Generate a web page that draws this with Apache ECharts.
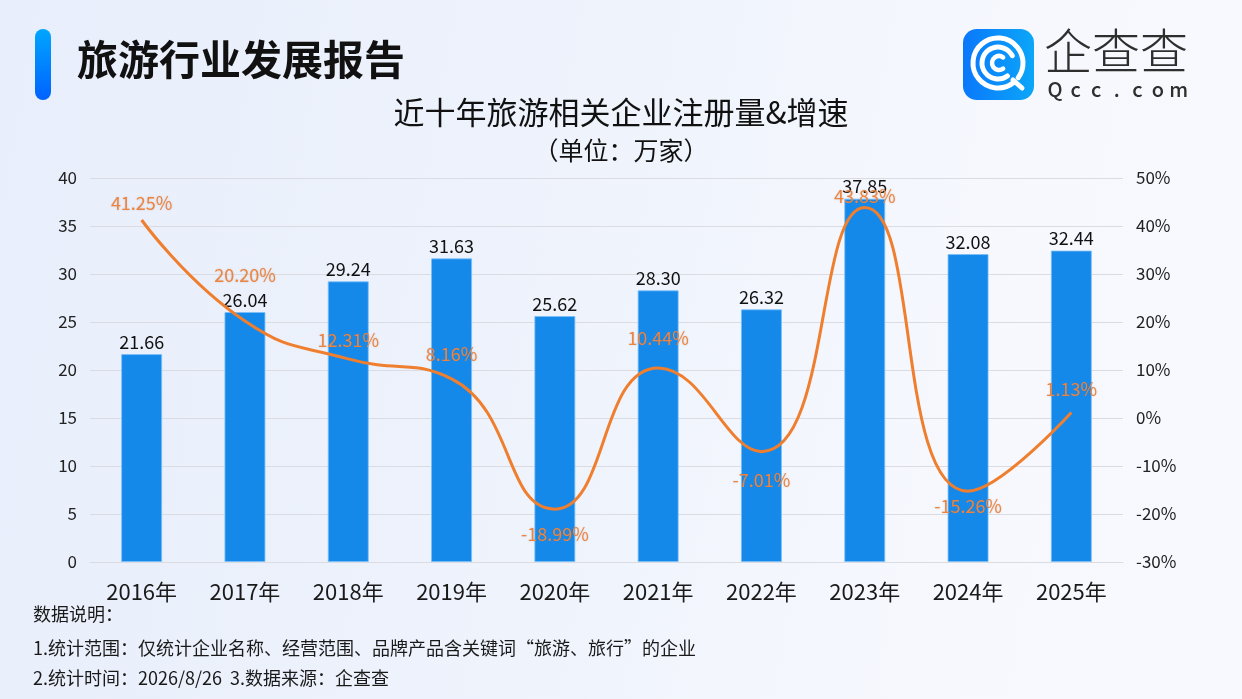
<!DOCTYPE html>
<html>
<head>
<meta charset="utf-8">
<script src="https://cdn.jsdelivr.net/npm/echarts@6/dist/echarts.min.js"></script>
<style>
html,body{margin:0;padding:0;width:1242px;height:699px;overflow:hidden;}
body{background:linear-gradient(100deg,#E8EEFB 0%,#EEF3FC 45%,#F6F8FE 75%,#F7F9FE 100%);}
#c{width:1242px;height:699px;}
</style>
</head>
<body>
<div id="c"></div>
<script>
// ---- data ----
var years = ['2016年','2017年','2018年','2019年','2020年','2021年','2022年','2023年','2024年','2025年'];
var registrations = [21.66, 26.04, 29.24, 31.63, 25.62, 28.30, 26.32, 37.85, 32.08, 32.44];
var growthRates = [41.25, 20.20, 12.31, 8.16, -18.99, 10.44, -7.01, 43.83, -15.26, 1.13];
var leftTicks = {min: 0, max: 40, interval: 5};
var rightTicks = {min: -30, max: 50, interval: 10};

// ---- label layout (vertical nudges for the growth labels) ----
var growthLabelNudge = [-17, -46, -19, -25, 25, -30, 29, -11, 15, -23];

var FONT = '"Noto Sans CJK SC","Noto Sans",sans-serif';
var chart = echarts.init(document.getElementById('c'), null, {renderer: 'canvas'});

var lineData = growthRates.map(function (v, i) {
  return {
    value: v,
    label: {offset: [0, growthLabelNudge[i]]}
  };
});

var logoWord = 'Qcc.com'.split('');
var logoWordGraphics = logoWord.map(function (ch, i) {
  return {
    type: 'text', x: 1055 + i * 20.6, y: 89,
    style: {text: ch, font: '500 20px ' + FONT, fill: '#2E2E2E', align: 'center', verticalAlign: 'middle'}
  };
});

var option = {
  backgroundColor: 'transparent',
  animation: false,
  textStyle: {fontFamily: FONT},
  grid: {left: 90, right: 119, top: 178, bottom: 137},
  xAxis: {
    type: 'category',
    data: years,
    axisTick: {show: false},
    axisLine: {lineStyle: {color: '#DADCE2', width: 1}},
    axisLabel: {color: '#1A1A1A', fontSize: 22, margin: 19, fontFamily: FONT}
  },
  yAxis: [
    {
      type: 'value', min: leftTicks.min, max: leftTicks.max, interval: leftTicks.interval,
      axisLine: {show: false}, axisTick: {show: false},
      axisLabel: {color: '#222', fontSize: 17, margin: 13, fontFamily: FONT},
      splitLine: {lineStyle: {color: '#DADCE2', width: 1}}
    },
    {
      type: 'value', min: rightTicks.min, max: rightTicks.max, interval: rightTicks.interval,
      axisLine: {show: false}, axisTick: {show: false},
      axisLabel: {color: '#222', fontSize: 17, margin: 13, formatter: '{value}%', fontFamily: FONT},
      splitLine: {show: false}
    }
  ],
  series: [
    {
      type: 'bar',
      data: registrations,
      barWidth: 41,
      itemStyle: {color: '#1589EA', borderColor: 'rgba(120,190,250,0.8)', borderWidth: 1},
      label: {
        show: true, position: 'top', distance: 3,
        color: '#111', fontSize: 18, fontFamily: FONT,
        formatter: function (p) { return p.value.toFixed(2); }
      },
      z: 2
    },
    {
      type: 'line',
      yAxisIndex: 1,
      data: lineData,
      smooth: 0.5,
      symbol: 'circle',
      symbolSize: 0.1,
      showSymbol: true,
      lineStyle: {color: '#EF7F2E', width: 3},
      itemStyle: {color: '#EF7F2E'},
      label: {
        show: true, position: 'inside',
        color: '#EE8440', fontSize: 18, fontFamily: FONT,
        textShadowColor: 'rgba(120,80,40,0.25)', textShadowBlur: 2,
        formatter: function (p) { return p.value.toFixed(2) + '%'; }
      },
      z: 5
    }
  ],
  graphic: [
    {
      type: 'rect', left: 35, top: 29,
      shape: {width: 16, height: 71, r: 8},
      style: {fill: new echarts.graphic.LinearGradient(0, 0, 0, 1, [
        {offset: 0, color: '#00A6FF'}, {offset: 1, color: '#0062FF'}])}
    },
    {
      type: 'text', left: 77, top: 39,
      style: {text: '旅游行业发展报告', font: 'bold 41px ' + FONT, fill: '#111'}
    },
    {
      type: 'text', left: 'center', top: 97,
      style: {text: '近十年旅游相关企业注册量&增速', font: '31px ' + FONT, fill: '#111'}
    },
    {
      type: 'text', left: 'center', top: 138,
      style: {text: '（单位：万家）', font: '25px ' + FONT, fill: '#111'}
    },
    // logo
    {
      type: 'rect', left: 963, top: 29,
      shape: {width: 71, height: 71, r: 14},
      style: {fill: new echarts.graphic.LinearGradient(0, 0, 1, 0, [
        {offset: 0, color: '#0A78FB'}, {offset: 1, color: '#0CA6F8'}])}
    },
    {
      type: 'arc',
      shape: {cx: 998, cy: 63, r: 25, startAngle: Math.PI * 0.28, endAngle: Math.PI * 0.2, clockwise: true},
      style: {stroke: '#fff', lineWidth: 5, fill: null, lineCap: 'round'}
    },
    {
      type: 'line',
      shape: {x1: 1013, y1: 80, x2: 1022, y2: 88},
      style: {stroke: '#fff', lineWidth: 5, lineCap: 'round'}
    },
    {
      type: 'arc',
      shape: {cx: 998, cy: 63, r: 16, startAngle: Math.PI * 0.3, endAngle: Math.PI * 1.85, clockwise: true},
      style: {stroke: '#fff', lineWidth: 5, fill: null, lineCap: 'round'}
    },
    {
      type: 'arc',
      shape: {cx: 999, cy: 63, r: 7, startAngle: Math.PI * 0.3, endAngle: Math.PI * 1.7, clockwise: true},
      style: {stroke: '#fff', lineWidth: 4.5, fill: null, lineCap: 'round'}
    },
    {
      type: 'text', left: 1044, top: 27,
      style: {text: '企查查', font: '300 48px ' + FONT, fill: '#2E2E2E'}
    }
  ].concat(logoWordGraphics).concat([
    // notes
    {
      type: 'text', left: 33, top: 605,
      style: {text: '数据说明：', font: '18px ' + FONT, fill: '#1A1A1A'}
    },
    {
      type: 'text', left: 33, top: 639,
      style: {text: '1.统计范围：仅统计企业名称、经营范围、品牌产品含关键词“旅游、旅行”的企业', font: '18px ' + FONT, fill: '#1A1A1A'}
    },
    {
      type: 'text', left: 33, top: 669,
      style: {text: '2.统计时间：2026/8/26  3.数据来源：企查查', font: '18px ' + FONT, fill: '#1A1A1A'}
    }
  ])
};
chart.setOption(option);
</script>
</body>
</html>
